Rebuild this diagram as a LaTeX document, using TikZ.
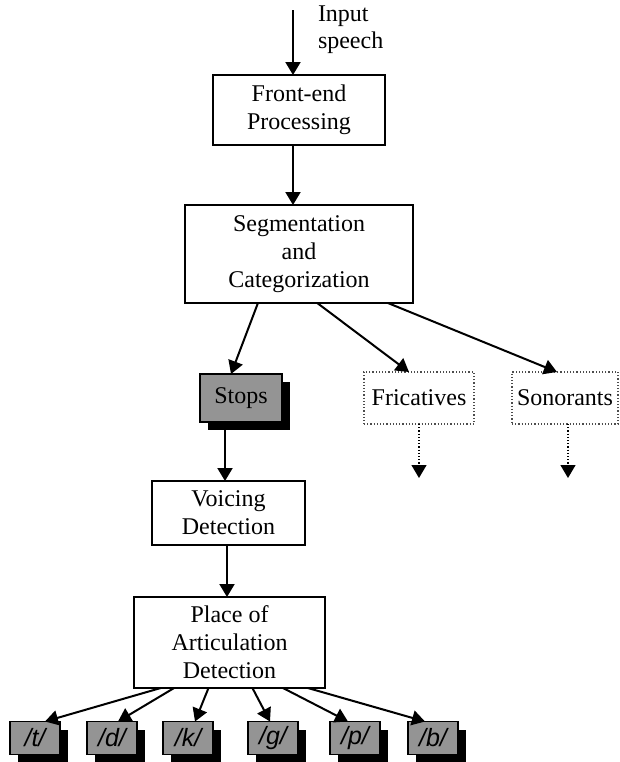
\documentclass[tikz,border=0pt]{standalone}
\usepackage{fontspec}
\setmainfont{Liberation Serif}
\newfontfamily\phonfont{Liberation Sans}
\usetikzlibrary{arrows.meta,shadows,calc}
\begin{document}
\begin{tikzpicture}[x=0.5pt,y=-0.5pt,
  every node/.style={inner sep=0pt, outer sep=0pt},
  arr/.style={line width=1pt,-{Triangle[width=7.5pt,length=6.5pt]}},
  darr/.style={line width=0.6pt,densely dotted,-{Triangle[width=7.5pt,length=6.5pt]}},
  box/.style={draw=black,line width=1.1pt,fill=white,align=center,font=\fontsize{12}{14}\selectfont},
  dbox/.style={draw=black!70,line width=0.6pt,densely dotted,fill=white,align=center,font=\fontsize{12}{14}\selectfont},
  gbox/.style={draw=black,line width=0.6pt,fill=black!42,align=center,
     general shadow={fill=black,shadow xshift=4pt,shadow yshift=-4pt}},
  phon/.style={gbox,minimum width=25pt,minimum height=16.5pt,font=\phonfont\itshape\fontsize{12.5}{14}\selectfont}
]
\useasboundingbox (0,0) rectangle (620,762);
\coordinate (in) at (293,10);
\coordinate (vx) at (225,0);
\coordinate (px) at (227,0);
\node[box,minimum width=86pt,minimum height=35pt] (fe) at (299,110) {Front-end\\Processing};
\node[anchor=north west,align=left,font=\fontsize{12}{13.5}\selectfont] (lbl) at (318,6) {Input\\speech};
\node[box,minimum width=114pt,minimum height=49pt] (seg) at (299,254) {Segmentation\\and\\Categorization};
\node[gbox,minimum width=41pt,minimum height=24pt,font=\fontsize{12}{14}\selectfont] (stops) at (241,398) {Stops};
\node[dbox,minimum width=55pt,minimum height=26pt] (fric) at (419,398) {Fricatives};
\node[dbox,minimum width=53pt,minimum height=26pt] (son) at (565,398) {Sonorants};
\coordinate (fe1) at (419,478);
\coordinate (son1) at (568,478);
\node[box,minimum width=76.5pt,minimum height=32pt] (voi) at (228.5,513) {Voicing\\Detection};
\node[box,minimum width=95.5pt,minimum height=45.5pt] (place) at (229.5,642.5) {Place of\\Articulation\\Detection};
\node[phon] (t) at (35,738) {/t/};
\node[phon] (d) at (112,738) {/d/};
\node[phon] (k) at (188,738) {/k/};
\node[phon] (g) at (273,738) {/g/};
\node[phon] (p) at (355,738) {/p/};
\node[phon] (b) at (433,738) {/b/};

\draw[arr] (in) -- (in |- fe.north);
\draw[arr] (in |- fe.south) -- (in |- seg.north);
\draw[arr] ($(seg.south west)!0.32!(seg.south east)$) -- ($(stops.north)+(-10,0)$);
\draw[arr] ($(seg.south west)!0.58!(seg.south east)$) -- ($(fric.north)+(-10,0)$);
\draw[arr] ($(seg.south west)!0.89!(seg.south east)$) -- ($(son.north)+(-8,0)$);
\draw[darr] (fric.south) -- (fric.south |- fe1);
\draw[darr] (son1 |- son.south) -- (son1);
\draw[arr] ($(vx |- stops.south)+(0,8)$) -- (vx |- voi.north);
\draw[arr] (px |- voi.south) -- (px |- place.north);
\draw[arr] ($(place.south west)!0.14!(place.south east)$) -- ($(t.north)+(10,0)$);
\draw[arr] ($(place.south west)!0.21!(place.south east)$) -- ($(d.north)+(6,0)$);
\draw[arr] ($(place.south west)!0.39!(place.south east)$) -- ($(k.north)+(7,0)$);
\draw[arr] ($(place.south west)!0.62!(place.south east)$) -- ($(g.north)+(-3,0)$);
\draw[arr] ($(place.south west)!0.78!(place.south east)$) -- ($(p.north)+(-7,0)$);
\draw[arr] ($(place.south west)!0.91!(place.south east)$) -- ($(b.north)+(-8,0)$);
\end{tikzpicture}
\end{document}
